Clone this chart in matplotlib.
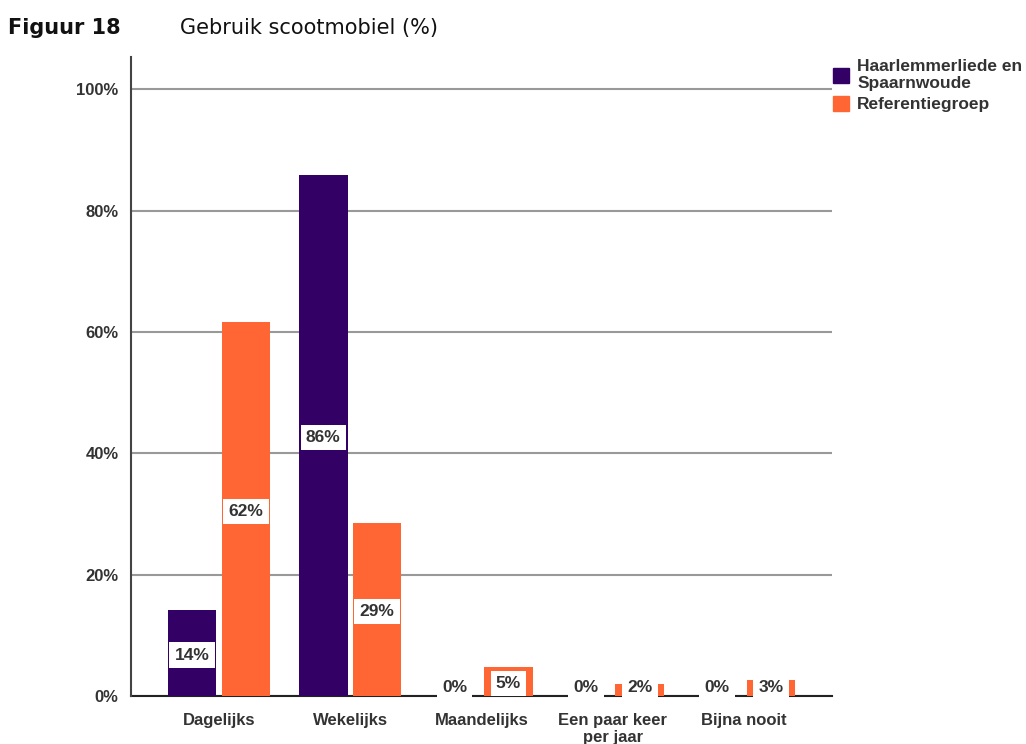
import numpy as np
import matplotlib
matplotlib.use('Agg')
import matplotlib.pyplot as plt
from matplotlib.patches import Patch

# Data
categories = ['Dagelijks', 'Wekelijks', 'Maandelijks', 'Een paar keer\nper jaar', 'Bijna nooit']
haarlem = [14.2, 85.8, 0, 0, 0]
referentie = [61.6, 28.5, 4.8, 2.0, 2.6]
haarlem_lbl = ['14%', '86%', '0%', '0%', '0%']
referentie_lbl = ['62%', '29%', '5%', '2%', '3%']
yticks = [0, 20, 40, 60, 80, 100]

purple = '#330066'
orange = '#FF6633'
txt = '#333333'

plt.rcParams['font.family'] = ['Liberation Sans', 'DejaVu Sans']

fig = plt.figure(figsize=(10.26, 7.44), dpi=100)
ax = fig.add_axes([131 / 1026, 1 - 696 / 744, (832 - 131) / 1026, (696 - 57) / 744])

x = np.arange(len(categories))
off = 0.205
w = 0.37
ax.bar(x - off, haarlem, width=w, color=purple, zorder=2)
ax.bar(x + off, referentie, width=w, color=orange, zorder=2)

# value labels in white boxes, in the middle of the bar
for xs, vals, lbls in [(x - off, haarlem, haarlem_lbl), (x + off, referentie, referentie_lbl)]:
    for xi, v, l in zip(xs, vals, lbls):
        ax.text(xi, max(v / 2 - 0.35, 1.45), l, ha='center', va='center', fontsize=12.5,
                fontweight='bold', color=txt, zorder=4,
                bbox=dict(facecolor='white', edgecolor='none', pad=3.8))

ax.set_xlim(-0.67, 4.67)
ax.set_ylim(0, 105.3)
ax.set_yticks(yticks)
ax.set_yticklabels(['{}%'.format(t) for t in yticks])
ax.set_xticks(x)
ax.set_xticklabels(categories, linespacing=1.2)
ax.tick_params(axis='y', length=0, pad=9, labelsize=12, labelcolor=txt)
ax.tick_params(axis='x', length=0, pad=12, labelsize=12, labelcolor=txt)
for lab in ax.get_xticklabels() + ax.get_yticklabels():
    lab.set_fontweight('bold')

ax.yaxis.grid(True, color='#999999', linewidth=1.5, zorder=0)
ax.set_axisbelow(True)
for s in ['top', 'right']:
    ax.spines[s].set_visible(False)
ax.spines['left'].set_color('#444444')
ax.spines['left'].set_linewidth(1.5)
ax.spines['bottom'].set_color('#222222')
ax.spines['bottom'].set_linewidth(1.5)
ax.spines['bottom'].set_zorder(1)

handles = [Patch(color=purple), Patch(color=orange)]
leg = fig.legend(handles, ['Haarlemmerliede en\nSpaarnwoude', 'Referentiegroep'],
                 loc='upper left', bbox_to_anchor=(833 / 1026, 1 - 59 / 744),
                 frameon=False, borderpad=0, borderaxespad=0,
                 handlelength=0.95, handleheight=0.95, handletextpad=0.45,
                 labelspacing=0.25,
                 prop={'weight': 'bold', 'size': 12.5})
for t in leg.get_texts():
    t.set_color(txt)
    t.set_linespacing(1.2)

fig.text(8 / 1026, 1 - 28 / 744, 'Figuur 18', ha='left', va='center',
         fontsize=15, fontweight='bold', family='DejaVu Sans', color='#111111')
fig.text(180 / 1026, 1 - 28 / 744, 'Gebruik scootmobiel (%)', ha='left', va='center',
         fontsize=15, family='DejaVu Sans', color='#111111')

fig.savefig('out.png', dpi=100)
